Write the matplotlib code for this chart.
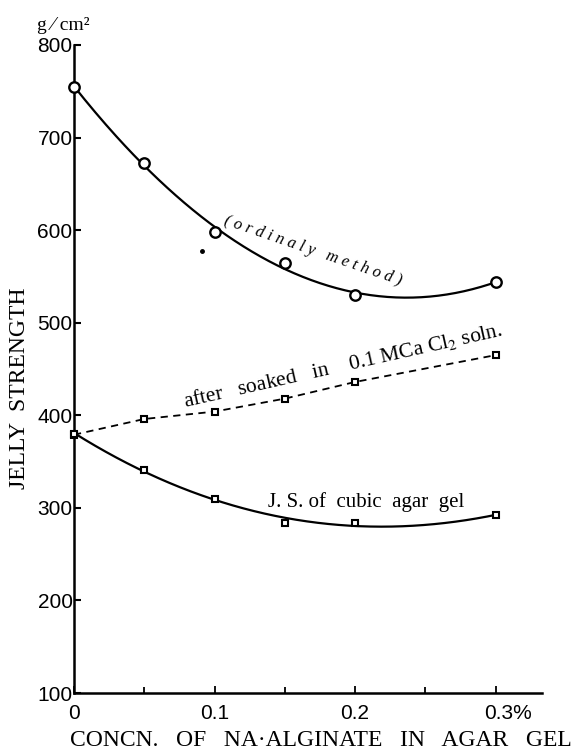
import numpy as np
import matplotlib
matplotlib.use('Agg')
import matplotlib.pyplot as plt
import matplotlib.transforms as mtransforms

# datos
conc = [0, 0.05, 0.1, 0.15, 0.2, 0.3]
ordinary = [755, 672, 598, 564, 530, 544]
soaked = [379, 396, 404, 418, 436, 465]
cubic = [380, 341, 310, 284, 284, 292]
stray_x = [0.091]
stray_y = [577]

yticks = [100, 200, 300, 400, 500, 600, 700, 800]
xticks = [0, 0.1, 0.2, 0.3]
xticklabels = ['0', '0.1', '0.2', '0.3%']
xminor = [0.05, 0.15, 0.25]

sans = 'Liberation Sans'
serif = 'Liberation Serif'
plt.rcParams['mathtext.fontset'] = 'stix'

fig = plt.figure(figsize=(5.75, 7.51), dpi=100)
ax = fig.add_axes([0.1287, 0.0772, 0.8139, 0.8629])

# curvas suavizadas (ajuste cubico de los puntos)
xs = np.linspace(0, 0.3, 200)
p_ord = np.polyfit(conc, ordinary, 3)
p_cub = np.polyfit(conc, cubic, 3)
ax.plot(xs, np.polyval(p_ord, xs), color='black', lw=1.6, zorder=2, clip_on=False)
ax.plot(xs, np.polyval(p_cub, xs), color='black', lw=1.6, zorder=2, clip_on=False)
ax.plot(conc, soaked, color='black', lw=1.3, ls=(0, (4, 3)), zorder=2, clip_on=False)

# marcadores
ax.plot(conc, ordinary, 'o', ms=7.5, mfc='white', mec='black', mew=1.7, zorder=3, clip_on=False)
ax.plot(conc, soaked, 's', ms=5, mfc='white', mec='black', mew=1.5, zorder=3, clip_on=False)
ax.plot(conc, cubic, 's', ms=5, mfc='white', mec='black', mew=1.5, zorder=3, clip_on=False)
ax.plot(stray_x, stray_y, 'o', ms=2.5, color='black', zorder=3)

ax.set_xlim(0, 0.333)
ax.set_ylim(100, 800)
ax.spines['top'].set_visible(False)
ax.spines['right'].set_visible(False)
ax.spines['left'].set_linewidth(1.8)
ax.spines['bottom'].set_linewidth(1.8)

ax.set_yticks(yticks)
ax.set_yticklabels([str(v) for v in yticks], family=sans, fontsize=15)
ax.set_xticks(xticks)
ax.set_xticklabels(xticklabels, family=sans, fontsize=15)
ax.set_xticks(xminor, minor=True)
ax.tick_params(axis='y', direction='in', length=5, width=1.5, pad=1)
ax.tick_params(axis='x', direction='in', length=5, width=1.3, pad=8)
ax.tick_params(axis='x', which='minor', direction='in', length=4, width=1.3)

lbl = ax.get_xticklabels()[-1]
lbl.set_transform(lbl.get_transform() + mtransforms.ScaledTranslation(9/72, 0, fig.dpi_scale_trans))

# textos
fig.text(20/575, 1 - 388/751, 'JELLY  STRENGTH', rotation=90, ha='center', va='center',
         family=serif, fontsize=17)
fig.text(321/575, 1 - 740/751, 'CONCN.   OF   NA·ALGINATE   IN   AGAR   GEL',
         ha='center', va='center', family=serif, fontsize=17)
fig.text(37/575, 1 - 26/751, 'g ⁄ cm²', ha='left', va='center', family=serif, fontsize=14)

ax.text(0.107, 610, '( o r d i n a l y   m e t h o d )', rotation=-19, rotation_mode='anchor',
        ha='left', va='center', family=serif, style='italic', fontsize=12)
ax.text(0.079, 409, 'after   soaked   in    0.1 MCa Cl$_2$ soln.', rotation=12.7,
        rotation_mode='anchor', ha='left', va='baseline', family=serif, fontsize=15.5)
ax.text(0.138, 301, 'J. S. of  cubic  agar  gel', ha='left', va='baseline', family=serif, fontsize=15)

fig.savefig('out.png', dpi=100)
